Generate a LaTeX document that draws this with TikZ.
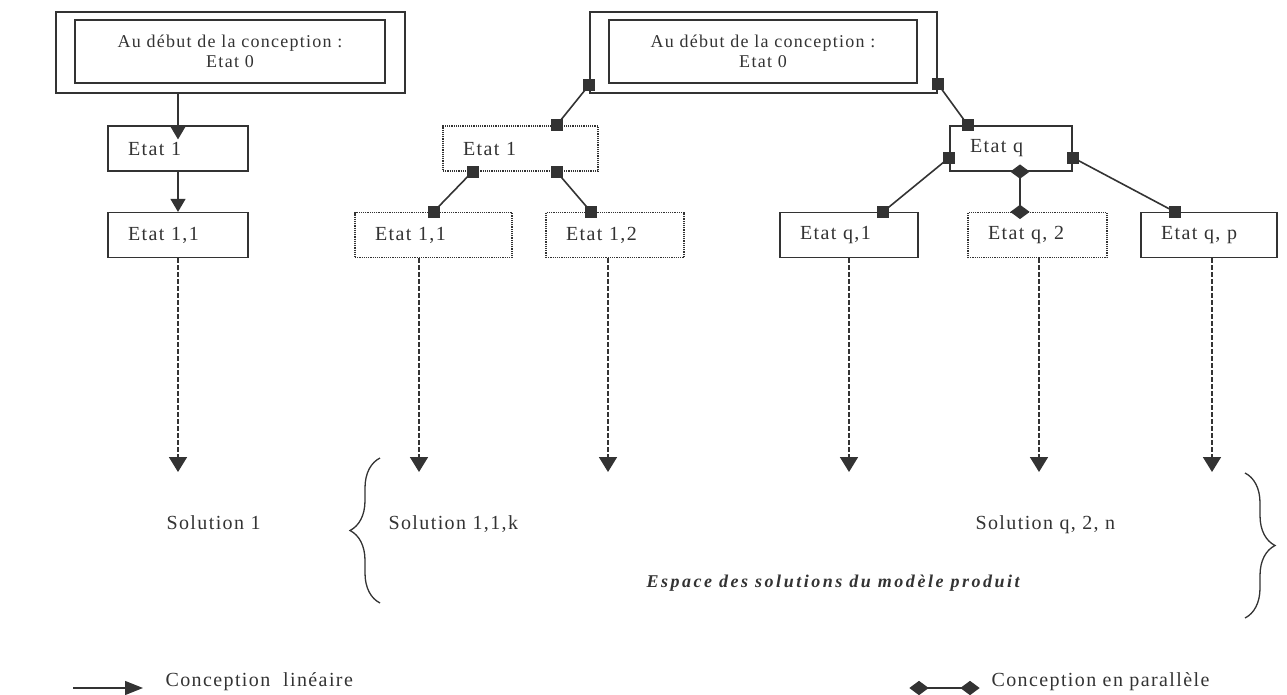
\documentclass[tikz,border=0pt]{standalone}
\usepackage{fontspec}
\setmainfont{Liberation Serif}[LetterSpace=7]
\newfontfamily\espfont{Liberation Serif}[LetterSpace=14]
\usetikzlibrary{arrows.meta,decorations.pathreplacing,shapes.geometric}
\newcommand{\inkcolor}{black!80}
\newcommand{\tipy}{472}
\newcommand{\soly}{529}

\begin{document}
\begin{tikzpicture}[x=1pt, y=-1pt,
    every node/.style={text=\inkcolor},
    etat/.style={draw=\inkcolor, line width=1.2pt, minimum height=45pt, inner xsep=20pt,
        align=left, text width=#1, font=\fontsize{20}{24}\selectfont},
    etatdot/.style={etat=#1, densely dotted},
    outerbox/.style={draw=\inkcolor, line width=1.3pt, inner sep=0pt},
    innerbox/.style={outerbox, align=center, font=\fontsize{18}{20}\selectfont},
    lin/.style={draw=\inkcolor, line width=1.3pt, -{Triangle[length=13pt,width=15pt]}},
    sollink/.style={draw=\inkcolor, line width=1.8pt, dash pattern=on 5pt off 2pt,
        -{Triangle[length=15pt,width=18pt]}},
    link/.style={draw=\inkcolor, line width=1.6pt},
    sqmark/.style={fill=\inkcolor, draw=none, inner sep=0pt, minimum size=12pt},
    diamark/.style={diamond, fill=\inkcolor, draw=none, inner sep=0pt, aspect=1.3,
        minimum width=20pt, minimum height=15pt},
    lbl/.style={anchor=base west, font=\fontsize{20}{24}\selectfont},
    bracket/.style={draw=\inkcolor, line width=1.3pt, decorate, decoration={brace, amplitude=30pt}}]
    \useasboundingbox (0,0) rectangle (1287,694);

    % start boxes
    \node[outerbox, minimum width=349pt, minimum height=81pt] (l0) at (230.5,52.5) {};
    \node[innerbox, minimum width=310pt, minimum height=63pt] (l0in) at (230,51.5) {Au début de la conception :\\Etat 0};
    \node[outerbox, minimum width=347pt, minimum height=81pt] (m0) at (763.5,52.5) {};
    \node[innerbox, minimum width=308pt, minimum height=63pt] (m0in) at (763,51.5) {Au début de la conception :\\Etat 0};

    % states
    \node[etat=100pt] (e1L) at (178,148.5) {Etat 1};
    \node[etat=100pt] (e11L) at (178,235) {Etat 1,1};
    \node[etatdot=115pt] (e1M) at (520.5,148.5) {Etat 1};
    \node[etatdot=117pt] (e11M) at (433.5,235) {Etat 1,1};
    \node[etatdot=98pt] (e12M) at (615,235) {Etat 1,2};
    \node[etat=82pt] (eq) at (1011,148.5) {Etat q};
    \node[etat=98pt] (eq1) at (849,235) {Etat q,1};
    \node[etatdot=99pt] (eq2) at (1037.5,235) {Etat q, 2};
    \node[etat=96pt] (eqp) at (1209,235) {Etat q, p};

    % linear design
    \draw[lin, shorten >=-14pt] (l0.south -| e1L) -- (e1L.north);
    \draw[lin] (e1L.south) -- (e11L.north);

    % parallel design
    \draw[link] ([yshift=9pt]m0.south west) node[sqmark] {} -- ([xshift=36pt]e1M.north) node[sqmark] {};
    \draw[link] ([yshift=10pt]m0.south east) node[sqmark] {} -- ([xshift=-43pt]eq.north) node[sqmark] {};
    \draw[link] ([xshift=-48pt]e1M.south) node[sqmark] {} -- (e11M.north) node[sqmark] {};
    \draw[link] ([xshift=36pt]e1M.south) node[sqmark] {} -- ([xshift=-24pt]e12M.north) node[sqmark] {};
    \draw[link] ([yshift=-9pt]eq.west) node[sqmark] {} -- ([xshift=34pt]eq1.north) node[sqmark] {};
    \draw[link] ([yshift=-9pt]eq.east) node[sqmark] {} -- ([xshift=-34pt]eqp.north) node[sqmark] {};
    \draw[link] ([xshift=9pt]eq.south) node[diamark] {} -- ([xshift=-17.5pt]eq2.north) node[diamark] {};

    % towards the solutions
    \coordinate (t1) at (178,\tipy);
    \coordinate (t2) at (419,\tipy);
    \coordinate (t3) at (608,\tipy);
    \coordinate (t4) at (849,\tipy);
    \coordinate (t5) at (1039,\tipy);
    \coordinate (t6) at (1212,\tipy);
    \draw[sollink] (e11L.south) -- (t1);
    \draw[sollink] (e11M.south -| t2) -- (t2);
    \draw[sollink] (e12M.south -| t3) -- (t3);
    \draw[sollink] (eq1.south) -- (t4);
    \draw[sollink] (eq2.south -| t5) -- (t5);
    \draw[sollink] (eqp.south -| t6) -- (t6);

    % solutions
    \node[lbl] (s1) at (163,\soly) {Solution 1};
    \node[lbl] (s11k) at (385,\soly) {Solution 1,1,k};
    \node[lbl] (sq2n) at (972,\soly) {Solution q, 2, n};
    \node[anchor=base west, font=\espfont\fontsize{18}{22}\selectfont\bfseries\itshape] (esp) at (643,587)
        {Espace des solutions du modèle produit};
    \draw[bracket] (380,603) -- (380,458);
    \draw[bracket] (1245,473) -- (1245,618);

    % legend
    \coordinate (legA) at (73,688);
    \coordinate (legB) at (143,688);
    \coordinate (legC) at (919,688);
    \coordinate (legD) at (970,688);
    \draw[lin, -{Triangle[length=18pt,width=14pt]}] (legA) -- (legB);
    \draw[link] (legC) node[diamark] {} -- (legD) node[diamark] {};
    \node[lbl] (legL) at (162,686) {Conception\ \ linéaire};
    \node[lbl] (legP) at (988,686) {Conception en parallèle};
\end{tikzpicture}
\end{document}
